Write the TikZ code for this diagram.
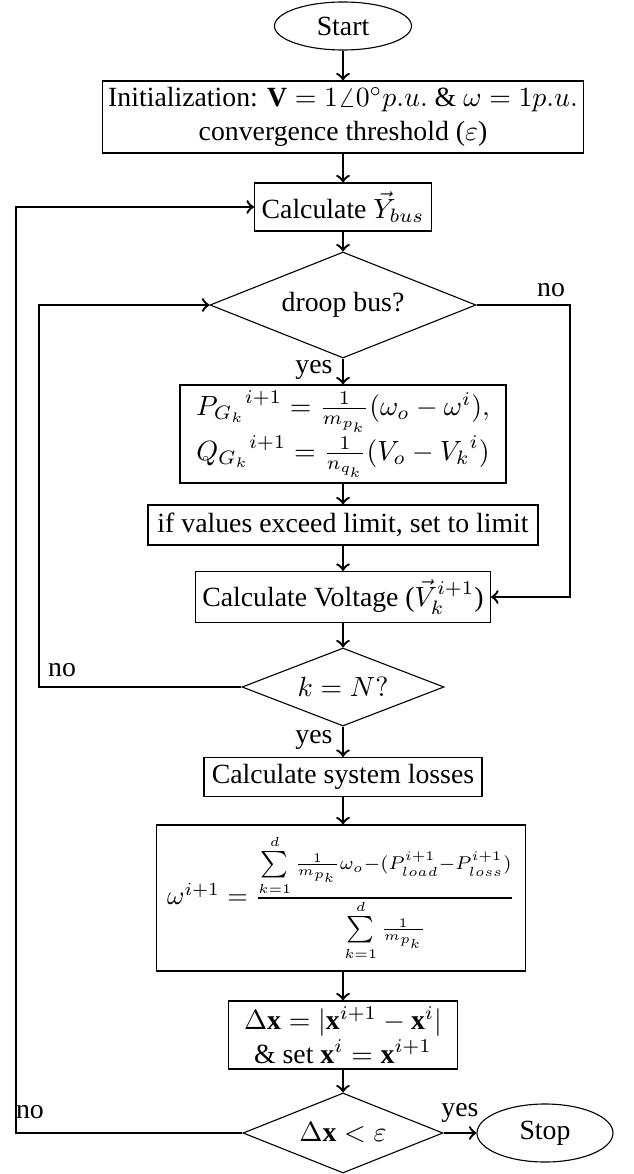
\documentclass[tikz,border=0pt]{standalone}
\usepackage{fontspec}
\setmainfont{Liberation Serif}
\usetikzlibrary{shapes.geometric,calc}
\newlength\pxu
\setlength\pxu{0.36pt}
\tikzset{
  sz/.style 2 args={minimum width=#1*\pxu, minimum height=#2*\pxu},
  term/.style={ellipse, draw, thin, inner sep=0pt, align=center},
  proc/.style={rectangle, draw, thin, inner sep=0pt, align=center},
  dec/.style={diamond, draw, thin, inner sep=0pt, align=center, aspect=2.5},
  conn/.style={line width=0.85pt, ->},
  lbl/.style={inner sep=0pt}
}
\begin{document}
\begin{tikzpicture}[x=0.36pt, y=-0.36pt, font=\fontsize{10}{12}\selectfont]
\useasboundingbox (0,0) rectangle (633,1174);
\node[term, sz={137}{48}] (start) at (343,26) {Start};
\node[proc, sz={481}{72}] (init) at (343,117) {Initialization: $\mathbf{V}=1\angle 0^\circ p.u.$ \& $\omega=1p.u.$\\convergence threshold ($\varepsilon$)};
\node[proc, sz={177}{48}] (ybus) at (343,207) {Calculate $\vec{Y}_{bus}$};
\node[dec, sz={266}{106}] (droop) at (343,305) {droop bus?};
\node[proc, sz={326}{98}] (pq) at (343,434) {${P_{G_k}}^{i+1} = \frac{1}{m_{p_k}}(\omega_o-\omega^i),$\\${Q_{G_k}}^{i+1} = \frac{1}{n_{q_k}}(V_o-{V_k}^i)$};
\node[proc, sz={390}{40}] (lim) at (343,525) {if values exceed limit, set to limit};
\node[proc, sz={295}{51}] (volt) at (343,597) {Calculate Voltage ($\vec{V}_k^{i+1}$)};
\node[dec, sz={202}{78}] (kn) at (343,687) {$k=N?$};
\node[proc, sz={278}{39}] (loss) at (343,777) {Calculate system losses};
\node[proc, sz={369}{146}] (omega) at (341,898) {\scalebox{0.95}{$\omega^{i+1} = \frac{\sum\limits_{k=1}^{d}\frac{1}{m_{p_k}}\omega_o-(P^{i+1}_{load}-P^{i+1}_{loss})}{\sum\limits_{k=1}^{d}\frac{1}{m_{p_k}}}$}};
\node[proc, sz={229}{68}] (dx) at (343,1035) {$\Delta\mathbf{x} = |\mathbf{x}^{i+1}-\mathbf{x}^i|$\\\& set $\mathbf{x}^i=\mathbf{x}^{i+1}$};
\node[dec, sz={200}{80}] (dxd) at (343,1133) {$\Delta\mathbf{x} < \varepsilon$};
\node[term, sz={136}{58}] (stop) at (545,1133) {Stop};

\coordinate (L1) at (16,1133);
\coordinate (L2) at (39,687);
\coordinate (R1) at (570,305);

\draw[conn] (start) -- (init);
\draw[conn] (init) -- (ybus);
\draw[conn] (ybus) -- (droop);
\draw[conn] (droop) -- (pq);
\draw[conn] (pq) -- (lim);
\draw[conn] (lim) -- (volt);
\draw[conn] (volt) -- (kn);
\draw[conn] (kn) -- (loss);
\draw[conn] (loss) -- (omega.north -| loss);
\draw[conn] (omega.south -| dx) -- (dx);
\draw[conn] (dx) -- (dxd);
\draw[conn] (dxd) -- (stop);
\draw[conn] (dxd.west) -- (L1) |- (ybus.west);
\draw[conn] (kn.west) -- (L2) |- (droop.west);
\draw[conn] (droop.east) -- (R1) |- (volt.east);

\node[lbl] (no1) at (551,290) {no};
\node[lbl] (yes1) at (314,370) {yes};
\node[lbl] (no2) at (62,670) {no};
\node[lbl] (yes2) at (314,740) {yes};
\node[lbl] (no3) at (30,1112) {no};
\node[lbl] (yes3) at (460,1113) {yes};
\end{tikzpicture}
\end{document}
